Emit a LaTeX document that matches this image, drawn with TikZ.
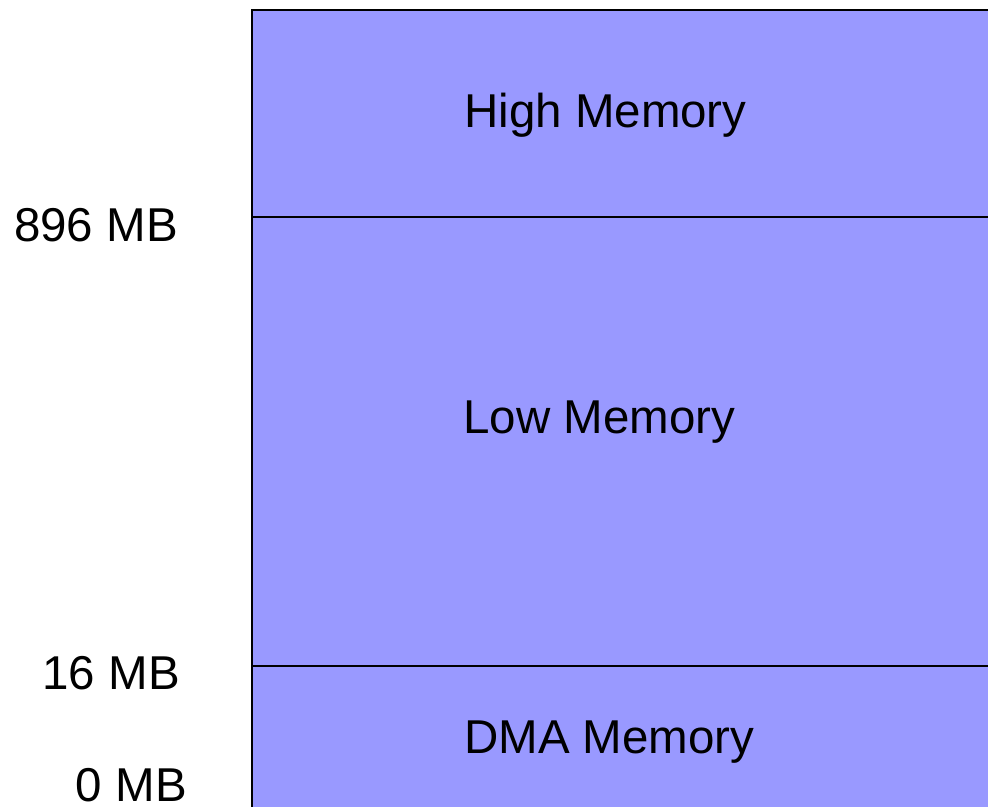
\documentclass[tikz,border=0pt]{standalone}
\usepackage{fontspec}
\setmainfont{Liberation Sans}
\definecolor{memfill}{HTML}{9999FF}
\begin{document}
\begin{tikzpicture}[x=1pt,y=-1pt,
  txt/.style={inner sep=0pt,font=\fontsize{47.5}{57}\selectfont},
  region/.style={draw=black,line width=2pt,fill=memfill}]
\useasboundingbox (0,0) rectangle (988,806);
\clip (0,0) rectangle (988,806);
% memory zones, stacked from top to bottom
\node[region,minimum width=760pt,minimum height=206.5pt,anchor=north west] (high) at (251,9) {};
\node[region,minimum width=760pt,minimum height=449pt,anchor=north west] (low) at (251,215.5) {};
\node[region,minimum width=760pt,minimum height=160pt,anchor=north west] (dma) at (251,664.5) {};
% zone names
\node[txt,anchor=base west] (thigh) at (464,127) {High Memory};
\node[txt,anchor=base west] (tlow) at (463,433) {Low Memory};
\node[txt,anchor=base west] (tdma) at (464,753) {DMA Memory};
% address marks
\node[txt,anchor=base east] (a896) at (178,241) {896 MB};
\node[txt,anchor=base east] (a16) at (180,689) {16 MB};
\node[txt,anchor=base east] (a0) at (187,801) {0 MB};
\end{tikzpicture}
\end{document}
